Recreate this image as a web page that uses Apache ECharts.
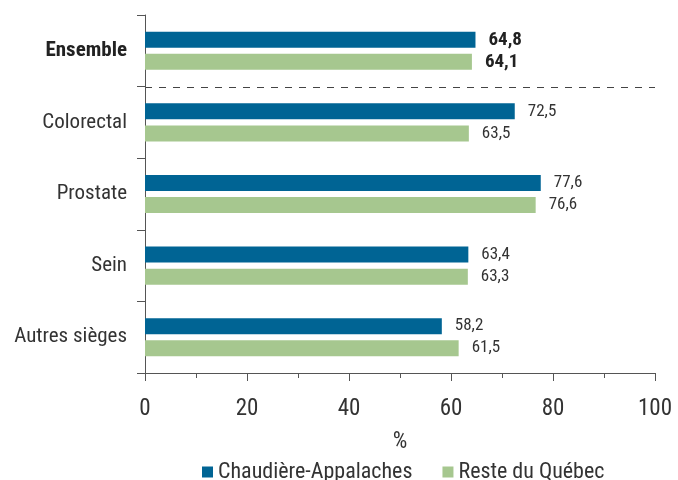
<!DOCTYPE html>
<html>
<head>
<meta charset="utf-8">
<script src="https://cdn.jsdelivr.net/npm/echarts@6/dist/echarts.min.js"></script>
<style>
  html, body { margin: 0; padding: 0; background: #fff; }
  #chart { width: 678px; height: 480px; }
</style>
</head>
<body>
<div id="chart"></div>
<script>
// données
const categories = ['Ensemble', 'Colorectal', 'Prostate', 'Sein', 'Autres sièges'];
const chaudiere = [64.8, 72.5, 77.6, 63.4, 58.2];
const resteQuebec = [64.1, 63.5, 76.6, 63.3, 61.5];
const seriesNames = ['Chaudière-Appalaches', 'Reste du Québec'];

const FONT = '"Liberation Sans Narrow", "Roboto Condensed", Roboto, sans-serif';
const TXT = '#333';

function fmt(v) {
  return String(v.toFixed(1)).replace('.', ',');
}

function toData(arr) {
  return arr.map((v, i) => {
    if (i === 0) {
      return { value: v, label: { fontWeight: 'bold', fontSize: 19, color: '#222' } };
    }
    return v;
  });
}

let myChart = echarts.init(document.getElementById('chart'));
let option = {
  animation: false,
  textStyle: { fontFamily: FONT },
  grid: { left: 145, right: 23, top: 15, bottom: 107, containLabel: false },
  legend: {
    top: 456,
    left: 197,
    itemWidth: 11,
    itemHeight: 11,
    itemGap: 30,
    icon: 'rect',
    textStyle: { fontFamily: FONT, fontSize: 22, color: TXT },
    data: seriesNames
  },
  xAxis: {
    type: 'value',
    min: 0,
    max: 100,
    interval: 20,
    name: '%',
    nameLocation: 'middle',
    nameGap: 58,
    nameTextStyle: { fontFamily: FONT, fontSize: 23, color: TXT },
    axisLine: { show: true, lineStyle: { color: '#555', width: 1 } },
    axisTick: { show: true, length: 8, lineStyle: { color: '#555' } },
    minorTick: { show: true, splitNumber: 2, length: 5, lineStyle: { color: '#555' } },
    axisLabel: { fontFamily: FONT, fontSize: 23, color: TXT, margin: 25 },
    splitLine: { show: false }
  },
  yAxis: {
    type: 'category',
    inverse: true,
    data: categories,
    axisLine: { show: true, lineStyle: { color: '#555', width: 1 } },
    axisTick: { show: true, length: 8, lineStyle: { color: '#555' } },
    axisLabel: {
      fontFamily: FONT,
      fontSize: 21,
      color: TXT,
      margin: 18,
      formatter: function (v) {
        return v === 'Ensemble' ? '{b|' + v + '}' : v;
      },
      rich: { b: { fontFamily: FONT, fontSize: 21, fontWeight: 'bold', color: '#222' } }
    },
    splitLine: { show: false }
  },
  series: [
    {
      name: seriesNames[0],
      type: 'bar',
      data: toData(chaudiere),
      barWidth: 16,
      barGap: '38%',
      itemStyle: { color: '#006494' },
      label: {
        show: true,
        position: 'right',
        distance: 13,
        fontFamily: FONT,
        fontSize: 17,
        color: TXT,
        formatter: p => fmt(p.value)
      }
    },
    {
      name: seriesNames[1],
      type: 'bar',
      data: toData(resteQuebec),
      barWidth: 16,
      itemStyle: { color: '#a6c78f' },
      label: {
        show: true,
        position: 'right',
        distance: 13,
        fontFamily: FONT,
        fontSize: 17,
        color: TXT,
        formatter: p => fmt(p.value)
      }
    }
  ]
};
myChart.setOption(option);

// ligne pointillée entre « Ensemble » et les sièges
const y0 = myChart.convertToPixel({ yAxisIndex: 0 }, categories[0]);
const y1 = myChart.convertToPixel({ yAxisIndex: 0 }, categories[1]);
const ySep = Math.round((y0 + y1) / 2) + 0.5;
const xL = myChart.convertToPixel({ xAxisIndex: 0 }, 0);
const xR = myChart.convertToPixel({ xAxisIndex: 0 }, 100);
myChart.setOption({
  graphic: [{
    type: 'line',
    shape: { x1: xL, y1: ySep, x2: xR, y2: ySep },
    style: { stroke: '#444', lineWidth: 1, lineDash: [7, 7] },
    silent: true
  }]
});
</script>
</body>
</html>
